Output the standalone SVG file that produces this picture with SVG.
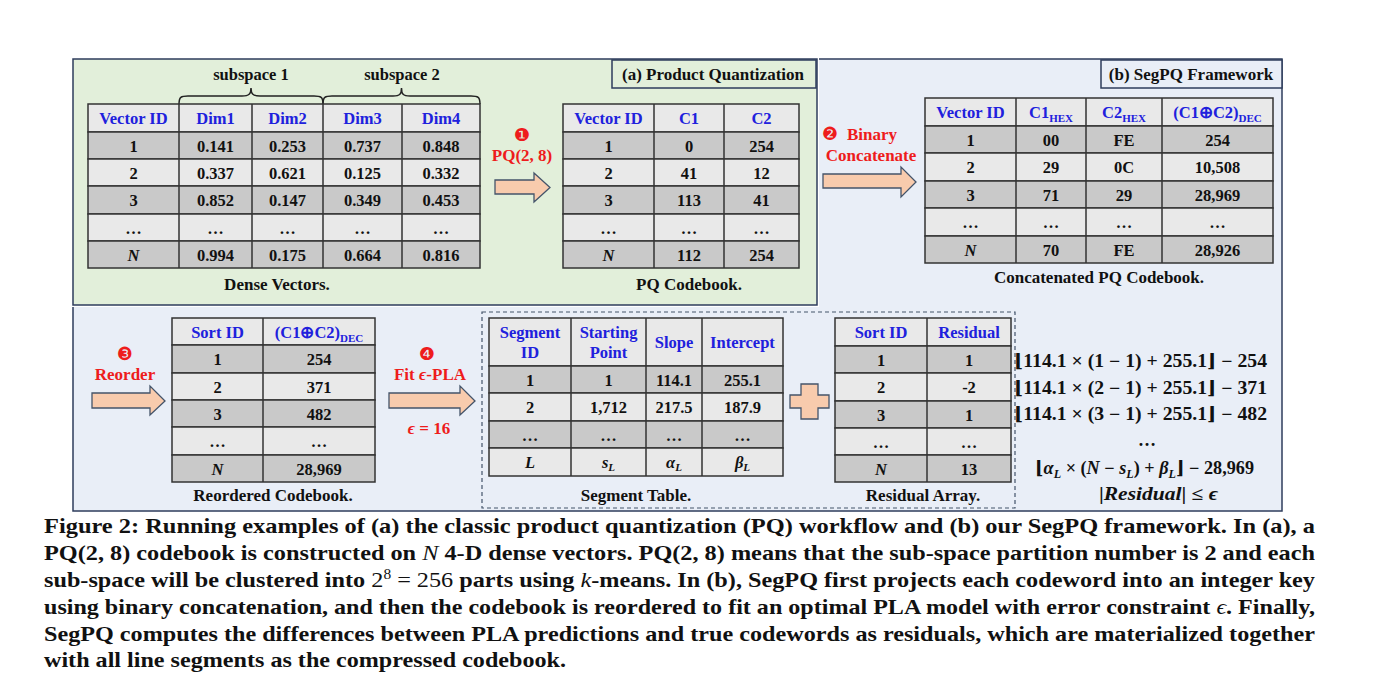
<svg xmlns="http://www.w3.org/2000/svg" width="1376" height="675" viewBox="0 0 1376 675">
<defs>
<style>
.t{font-family:"Liberation Serif",serif;font-weight:bold;font-size:16.5px;text-anchor:middle;fill:#111}
.h{fill:#2020dd}
.cap{font-family:"Liberation Serif",serif;font-weight:bold;font-size:17px;text-anchor:middle;fill:#111}
.red{font-family:"Liberation Serif",serif;font-weight:bold;font-size:17px;fill:#ee1c1c}
.num{font-family:"DejaVu Sans",sans-serif;font-size:18px;fill:#ee1c1c;text-anchor:middle}
.dk{fill:#c9c9c9;stroke:#333;stroke-width:1.5}
.lt{fill:#e9e9e9;stroke:#333;stroke-width:1.5}
.vl{stroke:#333;stroke-width:1.5}
.arr{fill:#f8cbad;stroke:#44546a;stroke-width:1.3}
.i{font-style:italic}
.sub{font-size:11px}
.m{font-family:"Liberation Serif","DejaVu Serif",serif;font-weight:bold;font-size:18px;fill:#111}
.fc{font-family:"Liberation Serif",serif;font-weight:bold;font-size:22px;fill:#111}
.nb{font-weight:normal}
</style>
</defs>
<rect width="1376" height="675" fill="#fff"/>

<!-- panels -->
<g id="panel-b">
<rect x="73" y="59" width="1209" height="452" fill="#e9eef7" stroke="#2e3d5c" stroke-width="1.5"/>
<rect x="1101" y="60" width="181" height="28" fill="#e9eef7" stroke="#2e3d5c" stroke-width="1.5"/>
<text class="cap" x="1191" y="80">(b) SegPQ Framework</text>
<rect x="482" y="312" width="533" height="196" fill="none" stroke="#44546a" stroke-width="1.2" stroke-dasharray="4,3"/>
</g>
<g id="panel-a">
<rect x="72" y="58" width="747" height="249" fill="#fff"/>
<rect x="73" y="59" width="744" height="246" fill="#e2efda" stroke="#2e3d5c" stroke-width="1.5"/>
<rect x="612" y="60" width="204" height="28" fill="#e2efda" stroke="#2e3d5c" stroke-width="1.5"/>
<text class="cap" x="713" y="80">(a) Product Quantization</text>
</g>

<!-- Dense vectors table -->
<g id="dense-vectors">
<path d="M179,104 C179,97 181,96 188,96 L242,96 C249,96 251,94 251,88 C251,94 253,96 260,96 L314,96 C321,96 323,97 323,104" fill="none" stroke="#222" stroke-width="1.5"/>
<path d="M323,104 C323,97 325,96 332,96 L393,96 C400,96 401.5,94 401.5,88 C401.5,94 403,96 410,96 L471,96 C478,96 480,97 480,104" fill="none" stroke="#222" stroke-width="1.5"/>
<text class="t" x="251" y="80">subspace 1</text>
<text class="t" x="402" y="80">subspace 2</text>
<rect class="lt" x="88" y="104" width="392" height="28"/>
<rect class="dk" x="88" y="132" width="392" height="27"/>
<rect class="lt" x="88" y="159" width="392" height="27"/>
<rect class="dk" x="88" y="186" width="392" height="28"/>
<rect class="lt" x="88" y="214" width="392" height="27"/>
<rect class="dk" x="88" y="241" width="392" height="27"/>
<path class="vl" d="M179,104V268M252,104V268M323,104V268M402,104V268"/>
<text class="t h" x="133.5" y="124">Vector ID</text><text class="t h" x="215.5" y="124">Dim1</text><text class="t h" x="287.5" y="124">Dim2</text><text class="t h" x="362.5" y="124">Dim3</text><text class="t h" x="441" y="124">Dim4</text>
<text class="t" x="133.5" y="151.5">1</text><text class="t" x="215.5" y="151.5">0.141</text><text class="t" x="287.5" y="151.5">0.253</text><text class="t" x="362.5" y="151.5">0.737</text><text class="t" x="441" y="151.5">0.848</text>
<text class="t" x="133.5" y="178.5">2</text><text class="t" x="215.5" y="178.5">0.337</text><text class="t" x="287.5" y="178.5">0.621</text><text class="t" x="362.5" y="178.5">0.125</text><text class="t" x="441" y="178.5">0.332</text>
<text class="t" x="133.5" y="206">3</text><text class="t" x="215.5" y="206">0.852</text><text class="t" x="287.5" y="206">0.147</text><text class="t" x="362.5" y="206">0.349</text><text class="t" x="441" y="206">0.453</text>
<text class="t" x="133.5" y="233.5">…</text><text class="t" x="215.5" y="233.5">…</text><text class="t" x="287.5" y="233.5">…</text><text class="t" x="362.5" y="233.5">…</text><text class="t" x="441" y="233.5">…</text>
<text class="t i" x="133.5" y="260.5">N</text><text class="t" x="215.5" y="260.5">0.994</text><text class="t" x="287.5" y="260.5">0.175</text><text class="t" x="362.5" y="260.5">0.664</text><text class="t" x="441" y="260.5">0.816</text>
<text class="cap" x="277" y="290">Dense Vectors.</text>
</g>

<!-- PQ codebook -->
<g id="pq-codebook">
<rect class="lt" x="563" y="104" width="236" height="28"/>
<rect class="dk" x="563" y="132" width="236" height="27"/>
<rect class="lt" x="563" y="159" width="236" height="27"/>
<rect class="dk" x="563" y="186" width="236" height="28"/>
<rect class="lt" x="563" y="214" width="236" height="27"/>
<rect class="dk" x="563" y="241" width="236" height="27"/>
<path class="vl" d="M654,104V268M724,104V268"/>
<text class="t h" x="608.5" y="124">Vector ID</text><text class="t h" x="689" y="124">C1</text><text class="t h" x="761.5" y="124">C2</text>
<text class="t" x="608.5" y="151.5">1</text><text class="t" x="689" y="151.5">0</text><text class="t" x="761.5" y="151.5">254</text>
<text class="t" x="608.5" y="178.5">2</text><text class="t" x="689" y="178.5">41</text><text class="t" x="761.5" y="178.5">12</text>
<text class="t" x="608.5" y="206">3</text><text class="t" x="689" y="206">113</text><text class="t" x="761.5" y="206">41</text>
<text class="t" x="608.5" y="233.5">…</text><text class="t" x="689" y="233.5">…</text><text class="t" x="761.5" y="233.5">…</text>
<text class="t i" x="608.5" y="260.5">N</text><text class="t" x="689" y="260.5">112</text><text class="t" x="761.5" y="260.5">254</text>
<text class="cap" x="689" y="290">PQ Codebook.</text>
</g>

<!-- Concatenated codebook -->
<g id="concat-codebook">
<rect class="lt" x="925" y="98" width="348" height="28"/>
<rect class="dk" x="925" y="126" width="348" height="27"/>
<rect class="lt" x="925" y="153" width="348" height="28"/>
<rect class="dk" x="925" y="181" width="348" height="27"/>
<rect class="lt" x="925" y="208" width="348" height="28"/>
<rect class="dk" x="925" y="236" width="348" height="27"/>
<path class="vl" d="M1016,98V263M1086,98V263M1162,98V263"/>
<text class="t h" x="970.5" y="118">Vector ID</text>
<text class="t h" x="1051" y="118">C1<tspan class="sub" dy="4">HEX</tspan></text>
<text class="t h" x="1124" y="118">C2<tspan class="sub" dy="4">HEX</tspan></text>
<text class="t h" x="1217.5" y="118">(C1⊕C2)<tspan class="sub" dy="4">DEC</tspan></text>
<text class="t" x="970.5" y="145.5">1</text><text class="t" x="1051" y="145.5">00</text><text class="t" x="1124" y="145.5">FE</text><text class="t" x="1217.5" y="145.5">254</text>
<text class="t" x="970.5" y="173">2</text><text class="t" x="1051" y="173">29</text><text class="t" x="1124" y="173">0C</text><text class="t" x="1217.5" y="173">10,508</text>
<text class="t" x="970.5" y="200.5">3</text><text class="t" x="1051" y="200.5">71</text><text class="t" x="1124" y="200.5">29</text><text class="t" x="1217.5" y="200.5">28,969</text>
<text class="t" x="970.5" y="228">…</text><text class="t" x="1051" y="228">…</text><text class="t" x="1124" y="228">…</text><text class="t" x="1217.5" y="228">…</text>
<text class="t i" x="970.5" y="255.5">N</text><text class="t" x="1051" y="255.5">70</text><text class="t" x="1124" y="255.5">FE</text><text class="t" x="1217.5" y="255.5">28,926</text>
<text class="cap" x="1099" y="283">Concatenated PQ Codebook.</text>
</g>

<!-- Reordered codebook -->
<g id="reordered-codebook">
<rect class="lt" x="172" y="318" width="203" height="27"/>
<rect class="dk" x="172" y="345" width="203" height="28"/>
<rect class="lt" x="172" y="373" width="203" height="27"/>
<rect class="dk" x="172" y="400" width="203" height="27"/>
<rect class="lt" x="172" y="427" width="203" height="28"/>
<rect class="dk" x="172" y="455" width="203" height="27"/>
<path class="vl" d="M263,318V482"/>
<text class="t h" x="217.5" y="337.5">Sort ID</text>
<text class="t h" x="319" y="337.5">(C1⊕C2)<tspan class="sub" dy="4">DEC</tspan></text>
<text class="t" x="217.5" y="365">1</text><text class="t" x="319" y="365">254</text>
<text class="t" x="217.5" y="392.5">2</text><text class="t" x="319" y="392.5">371</text>
<text class="t" x="217.5" y="419.5">3</text><text class="t" x="319" y="419.5">482</text>
<text class="t" x="217.5" y="447">…</text><text class="t" x="319" y="447">…</text>
<text class="t i" x="217.5" y="474.5">N</text><text class="t" x="319" y="474.5">28,969</text>
<text class="cap" x="273" y="501">Reordered Codebook.</text>
</g>

<!-- Segment table -->
<g id="segment-table">
<rect class="lt" x="489" y="318" width="294" height="48"/>
<rect class="dk" x="489" y="366" width="294" height="27"/>
<rect class="lt" x="489" y="393" width="294" height="28"/>
<rect class="dk" x="489" y="421" width="294" height="27"/>
<rect class="lt" x="489" y="448" width="294" height="28"/>
<path class="vl" d="M571,318V476M646,318V476M702,318V476"/>
<text class="t h" x="530" y="338">Segment</text><text class="t h" x="530" y="358">ID</text>
<text class="t h" x="608.5" y="338">Starting</text><text class="t h" x="608.5" y="358">Point</text>
<text class="t h" x="674" y="348">Slope</text>
<text class="t h" x="742.5" y="348">Intercept</text>
<text class="t" x="530" y="385.5">1</text><text class="t" x="608.5" y="385.5">1</text><text class="t" x="674" y="385.5">114.1</text><text class="t" x="742.5" y="385.5">255.1</text>
<text class="t" x="530" y="413">2</text><text class="t" x="608.5" y="413">1,712</text><text class="t" x="674" y="413">217.5</text><text class="t" x="742.5" y="413">187.9</text>
<text class="t" x="530" y="440.5">…</text><text class="t" x="608.5" y="440.5">…</text><text class="t" x="674" y="440.5">…</text><text class="t" x="742.5" y="440.5">…</text>
<text class="t i" x="530" y="468">L</text>
<text class="t" x="608.5" y="468"><tspan class="i">s</tspan><tspan class="sub i" dy="3">L</tspan></text>
<text class="t" x="674" y="468"><tspan class="i">α</tspan><tspan class="sub i" dy="3">L</tspan></text>
<text class="t" x="742.5" y="468"><tspan class="i">β</tspan><tspan class="sub i" dy="3">L</tspan></text>
<text class="cap" x="636" y="501">Segment Table.</text>
</g>

<!-- Residual array -->
<g id="residual-array">
<rect class="lt" x="835" y="318" width="176" height="28"/>
<rect class="dk" x="835" y="346" width="176" height="27"/>
<rect class="lt" x="835" y="373" width="176" height="28"/>
<rect class="dk" x="835" y="401" width="176" height="27"/>
<rect class="lt" x="835" y="428" width="176" height="27"/>
<rect class="dk" x="835" y="455" width="176" height="27"/>
<path class="vl" d="M927,318V482"/>
<text class="t h" x="881" y="338">Sort ID</text><text class="t h" x="969" y="338">Residual</text>
<text class="t" x="881" y="365.5">1</text><text class="t" x="969" y="365.5">1</text>
<text class="t" x="881" y="393">2</text><text class="t" x="969" y="393">-2</text>
<text class="t" x="881" y="420.5">3</text><text class="t" x="969" y="420.5">1</text>
<text class="t" x="881" y="447.5">…</text><text class="t" x="969" y="447.5">…</text>
<text class="t i" x="881" y="474.5">N</text><text class="t" x="969" y="474.5">13</text>
<text class="cap" x="923" y="501">Residual Array.</text>
</g>

<!-- formulas -->
<g id="formulas">
<text class="m" x="1014" y="367" textLength="253" lengthAdjust="spacingAndGlyphs">⌊114.1 × (1 − 1) + 255.1⌋ − 254</text>
<text class="m" x="1014" y="394" textLength="253" lengthAdjust="spacingAndGlyphs">⌊114.1 × (2 − 1) + 255.1⌋ − 371</text>
<text class="m" x="1014" y="420" textLength="253" lengthAdjust="spacingAndGlyphs">⌊114.1 × (3 − 1) + 255.1⌋ − 482</text>
<text class="m" x="1147" y="446" text-anchor="middle">…</text>
<text class="m" x="1035" y="474" textLength="219" lengthAdjust="spacingAndGlyphs">⌊<tspan class="i">α</tspan><tspan class="i" font-size="12" dy="4">L</tspan><tspan dy="-4"> × (</tspan><tspan class="i">N</tspan> − <tspan class="i">s</tspan><tspan class="i" font-size="12" dy="4">L</tspan><tspan dy="-4">) + </tspan><tspan class="i">β</tspan><tspan class="i" font-size="12" dy="4">L</tspan><tspan dy="-4">⌋ − 28,969</tspan></text>
<text class="m" x="1099" y="500" textLength="119" lengthAdjust="spacingAndGlyphs">|<tspan class="i">Residual</tspan>| ≤ <tspan class="i">ϵ</tspan></text>
</g>

<!-- connectors (block arrows and plus) -->
<g id="connectors">
<path class="arr" d="M495,180H534V173L550,187.5L534,202V194H495Z"/>
<path class="arr" d="M823,174H901V167L916,182L901,197V188H823Z"/>
<path class="arr" d="M92,393H150V386L165,401L150,415V408H92Z"/>
<path class="arr" d="M389,393H460V386L475,401L460,415V408H389Z"/>
<path class="arr" d="M801,384H818V395H829V408H818V419H801V408H790V395H801Z"/>
</g>

<g id="step-labels">
<text class="num" x="522" y="141">❶</text>
<text class="red" x="522" y="161" text-anchor="middle">PQ(2, 8)</text>
<text class="num" x="830" y="140">❷</text>
<text class="red" x="847" y="140">Binary</text>
<text class="red" x="871" y="161" text-anchor="middle">Concatenate</text>
<text class="num" x="125" y="360">❸</text>
<text class="red" x="125" y="380" text-anchor="middle">Reorder</text>
<text class="num" x="427" y="360">❹</text>
<text class="red" x="430" y="380" text-anchor="middle">Fit <tspan class="i">ϵ</tspan>-PLA</text>
<text class="red" x="429" y="434" text-anchor="middle"><tspan class="i">ϵ</tspan> = 16</text>
</g>

<!-- caption -->
<g id="caption">
<text class="fc" x="44" y="533" textLength="1271" lengthAdjust="spacingAndGlyphs">Figure 2: Running examples of (a) the classic product quantization (PQ) workflow and (b) our SegPQ framework. In (a), a</text>
<text class="fc" x="44" y="560" textLength="1271" lengthAdjust="spacingAndGlyphs">PQ(2, 8) codebook is constructed on <tspan class="i nb">N</tspan> 4-D dense vectors. PQ(2, 8) means that the sub-space partition number is 2 and each</text>
<text class="fc" x="44" y="587" textLength="1271" lengthAdjust="spacingAndGlyphs">sub-space will be clustered into <tspan class="nb">2</tspan><tspan class="nb" font-size="14" dy="-8">8</tspan><tspan class="nb" dy="8"> = 256</tspan> parts using <tspan class="i nb">k</tspan>-means. In (b), SegPQ first projects each codeword into an integer key</text>
<text class="fc" x="44" y="614" textLength="1271" lengthAdjust="spacingAndGlyphs">using binary concatenation, and then the codebook is reordered to fit an optimal PLA model with error constraint <tspan class="i nb">ϵ</tspan>. Finally,</text>
<text class="fc" x="44" y="641" textLength="1271" lengthAdjust="spacingAndGlyphs">SegPQ computes the differences between PLA predictions and true codewords as residuals, which are materialized together</text>
<text class="fc" x="44" y="667" textLength="522" lengthAdjust="spacingAndGlyphs">with all line segments as the compressed codebook.</text>
</g>
</svg>
